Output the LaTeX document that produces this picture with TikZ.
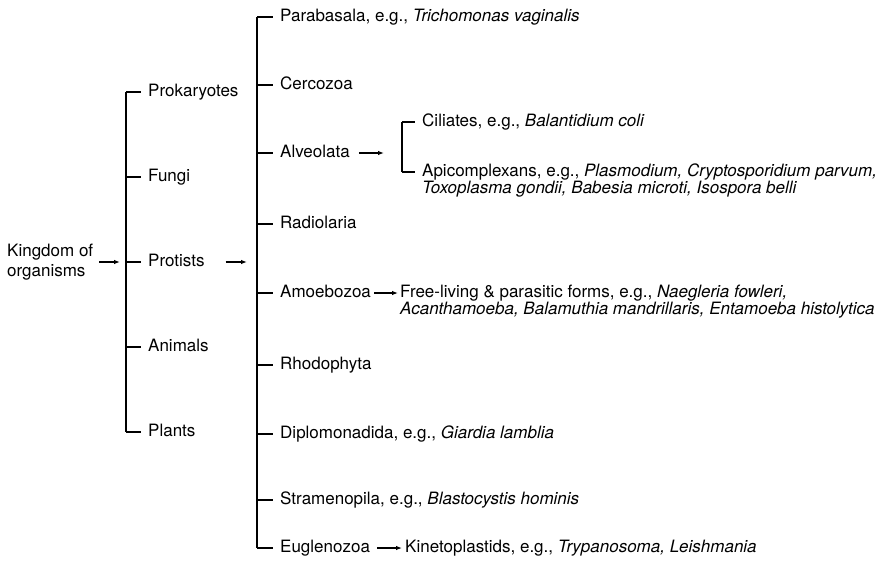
\documentclass[tikz,border=0pt]{standalone}
\usepackage{fontspec}
\setmainfont{TeX Gyre Heros}
\usetikzlibrary{arrows.meta}

\begin{document}
\begin{tikzpicture}[
  x=1pt,
  y=-1pt,
  line cap=butt,
  >={Latex[length=6pt,width=4.5pt]},
  font=\fontsize{17}{20}\selectfont,
  label/.style={
    anchor=west,
    inner sep=1pt,
    text height=11.5pt,
    text depth=3.5pt
  },
  edge/.style={draw=black,line width=1.1pt},
  tick/.style={edge,shorten >=6pt},
  arrow/.style={edge,->}
]
\useasboundingbox (0,0) rectangle (890,570);

% first bracket: the kingdoms
\node[label,align=left,text height=,text depth=] (kingdom) at (6,262) {Kingdom of\\organisms};
\coordinate (bus1) at (126,262);

\node[label] (prok)     at (147,92)  {Prokaryotes};
\node[label] (fungi)    at (147,177) {Fungi};
\node[label] (protists) at (147,262) {Protists};
\node[label] (animals)  at (147,347) {Animals};
\node[label] (plants)   at (147,432) {Plants};

\draw[arrow,shorten <=5pt,shorten >=6pt] (kingdom.east) -- (bus1);
\draw[edge] (prok.west -| bus1) -- (plants.west -| bus1);
\foreach \n in {prok,fungi,protists,animals,plants}
  \draw[tick] (\n.west -| bus1) -- (\n.west);

% second bracket: the protist groups
\coordinate (bus2) at (257,262);

\node[label] (parab)  at (279,17)  {Parabasala, e.g., \textit{Trichomonas vaginalis}};
\node[label] (cercoz) at (279,85)  {Cercozoa};
\node[label] (alveo)  at (279,153) {Alveolata};
\node[label] (radio)  at (279,224) {Radiolaria};
\node[label] (amoeb)  at (279,293) {Amoebozoa};
\node[label] (rhodo)  at (279,365) {Rhodophyta};
\node[label] (diplo)  at (279,434) {Diplomonadida, e.g., \textit{Giardia lamblia}};
\node[label] (strame) at (279,500) {Stramenopila, e.g., \textit{Blastocystis hominis}};
\node[label] (eugle)  at (279,548) {Euglenozoa};

\draw[arrow,shorten <=20pt,shorten >=10pt] (protists.east) -- (protists.east -| bus2);
\draw[edge] (parab.west -| bus2) -- (eugle.west -| bus2);
\foreach \n in {parab,cercoz,alveo,radio,amoeb,rhodo,diplo,strame,eugle}
  \draw[tick] (\n.west -| bus2) -- (\n.west);

% Alveolata splits in two
\coordinate (bus3) at (402,153);
\node[label] (cilia) at (421,122) {Ciliates, e.g., \textit{Balantidium coli}};
\node[label] (apico) at (421,172) {Apicomplexans, e.g., \textit{Plasmodium, Cryptosporidium parvum,}};
\node[label,anchor=north west] (apico2) at (apico.south west) {\textit{Toxoplasma gondii, Babesia microti, Isospora belli}};

\draw[arrow,shorten <=8pt,shorten >=18pt] (alveo.east) -- (bus3);
\draw[edge] (cilia.west -| bus3) -- (apico.west -| bus3);
\draw[tick] (cilia.west -| bus3) -- (cilia.west);
\draw[tick] (apico.west -| bus3) -- (apico.west);

% Amoebozoa and Euglenozoa
\node[label] (free) at (399,293) {Free-living \& parasitic forms, e.g., \textit{Naegleria fowleri,}};
\node[label,anchor=north west] (free2) at (free.south west) {\textit{Acanthamoeba, Balamuthia mandrillaris, Entamoeba histolytica}};
\node[label] (kineto) at (404,548) {Kinetoplastids, e.g., \textit{Trypanosoma, Leishmania}};

\draw[arrow,shorten <=2pt,shorten >=1pt] (amoeb.east) -- (free.west);
\draw[arrow,shorten <=6pt,shorten >=2pt] (eugle.east) -- (kineto.west);

\end{tikzpicture}
\end{document}
